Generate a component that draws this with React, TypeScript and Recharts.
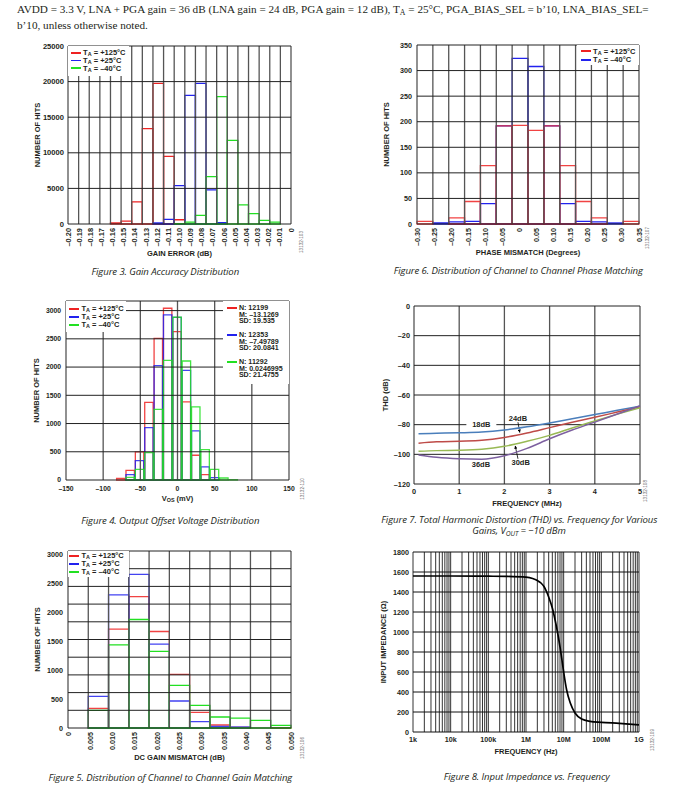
import React from 'react';
import {
  ComposedChart,
  Bar,
  LineChart,
  Line,
  XAxis,
  YAxis,
  CartesianGrid,
  Label,
  ReferenceDot,
  ReferenceLine,
} from 'recharts';

// ---- Figure 3: gain accuracy distribution ----
const gainErrorBins = [
  -0.2, -0.19, -0.18, -0.17, -0.16, -0.15, -0.14, -0.13, -0.12, -0.11, -0.1,
  -0.09, -0.08, -0.07, -0.06, -0.05, -0.04, -0.03, -0.02, -0.01, 0,
];
const gainErrorHot = [0, 0, 0, 0, 150, 400, 3100, 13400, 19750, 9500, 600, 0, 0, 0, 0, 0, 0, 0, 0, 0, 0];
const gainErrorRoom = [0, 0, 0, 0, 0, 0, 0, 0, 150, 650, 5400, 18070, 19750, 4800, 200, 0, 0, 0, 0, 0, 0];
const gainErrorCold = [0, 0, 0, 0, 0, 0, 0, 0, 0, 0, 50, 250, 1200, 6650, 17900, 11750, 2700, 1450, 500, 250, 0];
const gainErrorYTicks = [0, 5000, 10000, 15000, 20000, 25000];

// ---- Figure 6: phase matching ----
const phaseBins = [-0.3, -0.25, -0.2, -0.15, -0.1, -0.05, 0, 0.05, 0.1, 0.15, 0.2, 0.25, 0.3, 0.35];
const phaseHot = [5, 0, 12, 44, 114, 192, 193, 183, 192, 114, 44, 12, 0, 5];
const phaseCold = [0, 2, 4, 5, 40, 192, 324, 308, 192, 40, 5, 4, 2, 0];
const phaseYTicks = [0, 50, 100, 150, 200, 250, 300, 350];

// ---- Figure 4: output offset voltage ----
const vosBinCenters = [-75.6, -63, -50.4, -37.8, -25.2, -12.6, 0, 12.6, 25.2, 37.8, 50.4, 63, 75.6];
const vosBinWidth = 12.6;
const vosHot = [30, 172, 497, 1373, 2509, 3042, 2628, 1385, 438, 95, 0, 0, 0];
const vosRoom = [0, 95, 343, 929, 2024, 2924, 2880, 1941, 870, 231, 41, 0, 0];
const vosCold = [0, 47, 189, 485, 1249, 2119, 2882, 2107, 1296, 538, 189, 35, 5];
const vosXTicks = [-150, -100, -50, 0, 50, 100, 150];
const vosYTicks = [0, 500, 1000, 1500, 2000, 2500, 3000];
const vosYMax = 3170;
const vosStats = [
  { n: '12199', m: '–13.1269', sd: '19.535' },
  { n: '12353', m: '–7.49789', sd: '20.0841' },
  { n: '11292', m: '0.0246995', sd: '21.4755' },
];

// ---- Figure 7: THD vs frequency ----
const thdFreq = [0.1, 0.5, 1, 1.5, 2, 2.5, 3, 3.5, 4, 4.5, 5];
const thd18 = [-86.1, -85.8, -85.5, -85.0, -83.6, -81.4, -78.8, -76.0, -73.2, -70.3, -67.6];
const thd24 = [-92.5, -91.6, -91.1, -90.5, -88.6, -85.6, -82.0, -78.4, -75.0, -71.5, -68.0];
const thd30 = [-98.0, -97.5, -97.3, -96.6, -94.6, -91.2, -87.2, -82.2, -77.5, -72.9, -68.6];
const thd36 = [-100.4, -102.0, -103.0, -103.3, -101.0, -96.0, -89.5, -83.6, -78.3, -72.8, -67.3];
const thdXTicks = [0, 1, 2, 3, 4, 5];
const thdYTicks = [-120, -100, -80, -60, -40, -20, 0];

// ---- Figure 5: DC gain matching ----
const gainMatchBins = [0, 0.005, 0.01, 0.015, 0.02, 0.025, 0.03, 0.035, 0.04, 0.045, 0.05];
const gainMatchHot = [0, 339, 1707, 2270, 1667, 925, 270, 52, 11, 0, 5];
const gainMatchRoom = [0, 546, 2299, 2655, 1448, 466, 109, 29, 17, 0, 0];
const gainMatchCold = [0, 305, 1437, 1874, 1322, 736, 391, 190, 172, 132, 46];
const gainMatchYTicks = [0, 500, 1000, 1500, 2000, 2500, 3000];
const gainMatchYMax = 3057;

// ---- Figure 8: input impedance ----
const zFreq = [1e3, 1e4, 1e5, 3e5, 1e6, 1.5e6, 2e6, 2.5e6, 3e6, 3.5e6, 4e6, 5e6, 6e6, 7e6, 8e6, 9e6, 1e7, 1.2e7, 1.5e7, 2e7, 3e7, 5e7, 1e8, 3e8, 1e9];
const zOhms = [1560, 1560, 1558, 1556, 1548, 1535, 1515, 1490, 1455, 1405, 1350, 1240, 1110, 980, 850, 720, 600, 420, 290, 190, 130, 107, 97, 86, 72];
const zXTicks = [1e3, 1e4, 1e5, 1e6, 1e7, 1e8, 1e9];
const zXLabels = ['1k', '10k', '100k', '1M', '10M', '100M', '1G'];
const zYTicks = [0, 200, 400, 600, 800, 1000, 1200, 1400, 1600, 1800];

const FONT = '"Liberation Sans", Arial, sans-serif';
const INK = '#231f20';
const RED = '#ee2222';
const BLUE = '#2222ee';
const GREEN = '#22e022';

const tickStyle = (size: number) => ({ fontFamily: FONT, fontWeight: 700, fontSize: size, fill: INK });
const titleStyle = { fontFamily: FONT, fontWeight: 700, fontSize: 7.5, fill: INK };

const fmtDec = (digits: number) => (v: number) =>
  v === 0 ? '0' : (v < 0 ? '–' : '') + Math.abs(v).toFixed(digits);
const fmtInt = (v: number) => (v < 0 ? '–' : '') + Math.abs(v);

const RotatedTick = (size: number, format: (v: number) => string) => (props: any) => {
  const { x, y, payload } = props;
  return (
    <text x={x} y={y} transform={`rotate(-90 ${x} ${y})`} textAnchor="end" dominantBaseline="central" style={tickStyle(size)}>
      {format(payload.value)}
    </text>
  );
};

const yTitle = (text: React.ReactNode, dx: number) => (props: any) => {
  const vb = props.viewBox;
  const cx = vb.x + dx;
  const cy = vb.y + vb.height / 2;
  return (
    <text x={cx} y={cy} transform={`rotate(-90 ${cx} ${cy})`} textAnchor="middle" dominantBaseline="central" style={titleStyle}>
      {text}
    </text>
  );
};

const xTitle = (text: React.ReactNode, dy: number) => (props: any) => {
  const vb = props.viewBox;
  return (
    <text x={vb.x + vb.width / 2} y={vb.y + dy} textAnchor="middle" dominantBaseline="central" style={titleStyle}>
      {text}
    </text>
  );
};

// histogram grid: reference lines at the bin edges and at the y rows
const COL = { stroke: '#555', strokeWidth: 1.3, ifOverflow: 'visible' as const };
const ROW = { stroke: '#222', strokeWidth: 1, ifOverflow: 'visible' as const };

const binEdgeLines = (bins: number[]) => [
  ...bins.map((b) => <ReferenceLine key={`c${b}`} x={b} position="start" {...COL} />),
  <ReferenceLine key="cend" x={bins[bins.length - 1]} position="end" {...COL} />,
];
const colLines = (values: number[], xAxisId: string) =>
  values.map((v) => <ReferenceLine key={`c${v}`} x={v} xAxisId={xAxisId} {...COL} />);
const rowLines = (values: number[], xAxisId?: string) =>
  values.map((v) => <ReferenceLine key={`r${v}`} y={v} {...(xAxisId ? { xAxisId } : {})} {...ROW} />);

const TA = ({ t }: { t: string }) => (
  <>
    T<span style={{ fontSize: '0.72em', position: 'relative', top: '0.22em' }}>A</span> = {t}
  </>
);

type Entry = { color: string; label: React.ReactNode };

const legendFont: React.CSSProperties = {
  fontFamily: FONT,
  fontWeight: 700,
  fontSize: 7.5,
  color: INK,
  whiteSpace: 'nowrap',
  lineHeight: 1,
};

function LegendBox({ entries, box, row, padTop, padLeft }: { entries: Entry[]; box: React.CSSProperties; row: number; padTop: number; padLeft: number }) {
  return (
    <div style={{ position: 'absolute', background: '#fff', boxSizing: 'border-box', paddingTop: padTop, paddingLeft: padLeft, ...box }}>
      {entries.map((e, i) => (
        <div key={i} style={{ display: 'flex', alignItems: 'center', height: row }}>
          <span style={{ display: 'inline-block', width: 9.5, height: 1.8, background: e.color, marginRight: 2.6 }} />
          <span style={legendFont}>{e.label}</span>
        </div>
      ))}
    </div>
  );
}

const threeTemps: Entry[] = [
  { color: RED, label: <TA t="+125°C" /> },
  { color: BLUE, label: <TA t="+25°C" /> },
  { color: GREEN, label: <TA t="–40°C" /> },
];

const barCommon = { fill: 'none', strokeWidth: 1.3, isAnimationActive: false };
const blankAxis = { tick: false, tickLine: false, axisLine: false } as const;
const layer: React.CSSProperties = { position: 'absolute', left: 0, top: 0 };

// bars of one bin share the same slot: size just under the band, negative gap
const slot = (plotWidth: number, bins: number) => plotWidth / bins - 0.02;

// ---------------- charts ----------------
// Each histogram: a frame chart underneath (x axis and titles) and a bar
// chart with the same geometry on top (grid, bars and y tick labels).

const gainErrorData = gainErrorBins.map((bin, i) => ({ bin, hot: gainErrorHot[i], room: gainErrorRoom[i], cold: gainErrorCold[i] }));

function GainErrorChart() {
  const W = 296, H = 228;
  const margin = { top: 10, right: 25, bottom: 0, left: 0 };
  const bs = slot(223, gainErrorBins.length);
  return (
    <div style={{ position: 'absolute', left: 20, top: 36, width: W, height: H }}>
      <div style={layer}>
        <LineChart width={W} height={H} data={gainErrorData} margin={margin}>
          <XAxis dataKey="bin" interval={0} tickLine={false} axisLine={false} tickSize={0} tickMargin={4} height={40} tick={RotatedTick(7.4, fmtDec(2))}>
            <Label content={xTitle('GAIN ERROR (dB)', 29)} />
          </XAxis>
          <YAxis width={48} domain={[0, 25000]} {...blankAxis}>
            <Label content={yTitle('NUMBER OF HITS', 17)} />
          </YAxis>
        </LineChart>
      </div>
      <div style={layer}>
        <ComposedChart width={W} height={H} data={gainErrorData} margin={margin} barGap={-bs}>
          <XAxis dataKey="bin" height={40} {...blankAxis} />
          <YAxis width={48} domain={[0, 25000]} ticks={gainErrorYTicks} interval={0} tickLine={false} axisLine={false} tickSize={0} tickMargin={4} tick={tickStyle(7.6)} />
          {binEdgeLines(gainErrorBins)}
          {rowLines(gainErrorYTicks)}
          <Bar dataKey="hot" name="+125°C" stroke={RED} barSize={bs} {...barCommon} />
          <Bar dataKey="room" name="+25°C" stroke={BLUE} barSize={bs} {...barCommon} />
          <Bar dataKey="cold" name="-40°C" stroke={GREEN} barSize={bs} {...barCommon} />
        </ComposedChart>
      </div>
      <LegendBox entries={threeTemps} box={{ left: 48, top: 10, width: 61, height: 30 }} row={7.8} padTop={2.8} padLeft={3} />
    </div>
  );
}

const phaseData = phaseBins.map((bin, i) => ({ bin, hot: phaseHot[i], cold: phaseCold[i] }));

function PhaseChart() {
  const W = 279, H = 229;
  const margin = { top: 10, right: 12, bottom: 0, left: 0 };
  const bs = slot(222, phaseBins.length);
  return (
    <div style={{ position: 'absolute', left: 372, top: 35, width: W, height: H }}>
      <div style={layer}>
        <LineChart width={W} height={H} data={phaseData} margin={margin}>
          <XAxis dataKey="bin" interval={0} tickLine={false} axisLine={false} tickSize={0} tickMargin={4} height={40} tick={RotatedTick(7.2, fmtDec(2))}>
            <Label content={xTitle('PHASE MISMATCH (Degrees)', 28.3)} />
          </XAxis>
          <YAxis width={45} domain={[0, 350]} {...blankAxis}>
            <Label content={yTitle('NUMBER OF HITS', 14.7)} />
          </YAxis>
        </LineChart>
      </div>
      <div style={layer}>
        <ComposedChart width={W} height={H} data={phaseData} margin={margin} barGap={-bs}>
          <XAxis dataKey="bin" height={40} {...blankAxis} />
          <YAxis width={45} domain={[0, 350]} ticks={phaseYTicks} interval={0} tickLine={false} axisLine={false} tickSize={0} tickMargin={5} tick={tickStyle(7.2)} />
          {binEdgeLines(phaseBins)}
          {rowLines(phaseYTicks)}
          <Bar dataKey="cold" name="-40°C" stroke={BLUE} barSize={bs} {...barCommon} />
          <Bar dataKey="hot" name="+125°C" stroke={RED} barSize={bs} strokeOpacity={0.85} {...barCommon} />
        </ComposedChart>
      </div>
      <LegendBox
        entries={[
          { color: RED, label: <TA t="+125°C" /> },
          { color: BLUE, label: <TA t="–40°C" /> },
        ]}
        box={{ left: 205, top: 10, width: 62, height: 20 }}
        row={8.3}
        padTop={2.2}
        padLeft={4}
      />
    </div>
  );
}

const vosData = vosBinCenters.map((mv, i) => ({ mv, hot: vosHot[i], room: vosRoom[i], cold: vosCold[i] }));
const VOS_PLOT_W = 223;

function StatsBox() {
  const colors = [RED, BLUE, GREEN];
  return (
    <div style={{ position: 'absolute', left: 203, top: 10, width: 66, height: 83, background: '#fff', boxSizing: 'border-box', paddingTop: 3.8, paddingLeft: 4.3 }}>
      {vosStats.map((s, i) => (
        <div key={i} style={{ display: 'flex', alignItems: 'flex-start', height: 27 }}>
          <span style={{ display: 'inline-block', width: 10, height: 1.8, background: colors[i], marginRight: 1.6, marginTop: 2.6 }} />
          <div style={{ ...legendFont, fontSize: 7.1, lineHeight: '6.7px' }}>
            <div>N: {s.n}</div>
            <div>M: {s.m}</div>
            <div>SD: {s.sd}</div>
          </div>
        </div>
      ))}
    </div>
  );
}

function VosChart() {
  const W = 289, H = 219;
  const margin = { top: 10, right: 20, bottom: 0, left: 0 };
  const bs = (vosBinWidth * VOS_PLOT_W) / 300;
  const vosAxis = { type: 'number' as const, dataKey: 'mv', domain: [-150, 150] as [number, number] };
  return (
    <div style={{ position: 'absolute', left: 20, top: 291, width: W, height: H }}>
      <div style={layer}>
        <LineChart width={W} height={H} data={vosData} margin={margin}>
          <XAxis {...vosAxis} ticks={vosXTicks} interval={0} tickLine={false} axisLine={false} tickSize={0} tickMargin={6} height={30} tick={tickStyle(6.8)} tickFormatter={fmtInt}>
            <Label
              content={(p: any) => (
                <text x={p.viewBox.x + p.viewBox.width / 2} y={p.viewBox.y + 18.3} textAnchor="middle" dominantBaseline="central" style={titleStyle}>
                  V<tspan dy={1.8} fontSize={5.4}>OS</tspan>
                  <tspan dy={-1.8}> (mV)</tspan>
                </text>
              )}
            />
          </XAxis>
          <YAxis width={46} domain={[0, vosYMax]} {...blankAxis}>
            <Label content={yTitle('NUMBER OF HITS', 16)} />
          </YAxis>
        </LineChart>
      </div>
      <div style={layer}>
        <ComposedChart width={W} height={H} data={vosData} margin={margin} barGap={0}>
          <XAxis xAxisId="a" {...vosAxis} height={30} {...blankAxis} />
          <XAxis xAxisId="b" {...vosAxis} hide height={0} />
          <XAxis xAxisId="c" {...vosAxis} hide height={0} />
          <YAxis width={46} domain={[0, vosYMax]} ticks={vosYTicks} interval={0} tickLine={false} axisLine={false} tickSize={0} tickMargin={5} tick={tickStyle(6.8)} />
          {colLines(vosXTicks, 'a')}
          {rowLines([...vosYTicks, vosYMax], 'a')}
          <Bar xAxisId="a" dataKey="hot" name="+125°C" stroke={RED} barSize={bs} strokeOpacity={0.85} {...barCommon} />
          <Bar xAxisId="b" dataKey="room" name="+25°C" stroke={BLUE} barSize={bs} strokeOpacity={0.85} {...barCommon} />
          <Bar xAxisId="c" dataKey="cold" name="-40°C" stroke={GREEN} barSize={bs} strokeOpacity={0.85} {...barCommon} />
        </ComposedChart>
      </div>
      <LegendBox entries={threeTemps} box={{ left: 46, top: 10, width: 60, height: 31 }} row={7.9} padTop={4} padLeft={3.3} />
      <StatsBox />
    </div>
  );
}

const thdData = thdFreq.map((mhz, i) => ({ mhz, g18: thd18[i], g24: thd24[i], g30: thd30[i], g36: thd36[i] }));

const thdLabels = [
  { text: '18dB', x: 1.49, y: -79.8, boxed: true },
  { text: '24dB', x: 2.3, y: -75.6, boxed: false },
  { text: '30dB', x: 2.36, y: -105.3, boxed: false },
  { text: '36dB', x: 1.48, y: -106.7, boxed: false },
];
const thdArrows = [
  { x1: 2.3, y1: -78.3, x2: 2.34, y2: -85.3 },
  { x1: 2.3, y1: -103, x2: 2.24, y2: -94.3 },
];

const annotation = (text: string, boxed: boolean) => (props: any) => {
  const { x, y } = props.viewBox;
  return (
    <g>
      {boxed && <rect x={x - 15} y={y - 3} width={30} height={6} fill="#fff" />}
      <text x={x} y={y} textAnchor="middle" dominantBaseline="central" style={titleStyle}>
        {text}
      </text>
    </g>
  );
};

function ThdChart() {
  return (
    <div style={{ position: 'absolute', left: 372, top: 296 }}>
      <LineChart width={280} height={218} data={thdData} margin={{ top: 10, right: 12, bottom: 0, left: 0 }}>
        <defs>
          <marker id="thdArrow" viewBox="0 0 6 6" refX="5.5" refY="3" markerWidth="4" markerHeight="4" orient="auto">
            <path d="M0,0 L6,3 L0,6 z" fill="#000" />
          </marker>
        </defs>
        <CartesianGrid horizontal={false} stroke="#555" strokeWidth={1.3} />
        <CartesianGrid vertical={false} stroke="#222" />
        <XAxis type="number" dataKey="mhz" domain={[0, 5]} ticks={thdXTicks} interval={0} tickLine={false} axisLine={false} tickSize={0} tickMargin={5} height={30} tick={tickStyle(7.3)}>
          <Label content={xTitle('FREQUENCY (MHz)', 19.3)} />
        </XAxis>
        <YAxis width={42} domain={[-120, 0]} ticks={thdYTicks} interval={0} tickLine={false} axisLine={false} tickSize={0} tickMargin={4} tick={tickStyle(7.3)} tickFormatter={fmtInt}>
          <Label content={yTitle('THD (dB)', 13)} />
        </YAxis>
        {thdLabels.map((l) => (
          <ReferenceDot key={l.text} x={l.x} y={l.y} r={0} fill="none" stroke="none">
            <Label content={annotation(l.text, l.boxed)} />
          </ReferenceDot>
        ))}
        {thdArrows.map((a, i) => (
          <ReferenceLine
            key={i}
            segment={[
              { x: a.x1, y: a.y1 },
              { x: a.x2, y: a.y2 },
            ]}
            stroke="#000"
            strokeWidth={0.8}
            markerEnd="url(#thdArrow)"
          />
        ))}
        <Line type="monotone" dataKey="g18" stroke="#4a7ebb" strokeWidth={1.5} dot={false} isAnimationActive={false} />
        <Line type="monotone" dataKey="g24" stroke="#be4b48" strokeWidth={1.5} dot={false} isAnimationActive={false} />
        <Line type="monotone" dataKey="g30" stroke="#98b954" strokeWidth={1.5} dot={false} isAnimationActive={false} />
        <Line type="monotone" dataKey="g36" stroke="#7d60a0" strokeWidth={1.5} dot={false} isAnimationActive={false} />
      </LineChart>
    </div>
  );
}

const gainMatchData = gainMatchBins.map((bin, i) => ({ bin, hot: gainMatchHot[i], room: gainMatchRoom[i], cold: gainMatchCold[i] }));

function GainMatchChart() {
  const W = 296, H = 227;
  const margin = { top: 10, right: 25, bottom: 0, left: 0 };
  const gridRows = Array.from({ length: 11 }, (_, i) => (gainMatchYMax * i) / 10);
  const bs = slot(223, gainMatchBins.length);
  return (
    <div style={{ position: 'absolute', left: 20, top: 541, width: W, height: H }}>
      <div style={layer}>
        <LineChart width={W} height={H} data={gainMatchData} margin={margin}>
          <XAxis dataKey="bin" interval={0} tickLine={false} axisLine={false} tickSize={0} tickMargin={4} height={40} tick={RotatedTick(7.2, fmtDec(3))}>
            <Label content={xTitle('DC GAIN MISMATCH (dB)', 29.4)} />
          </XAxis>
          <YAxis width={48} domain={[0, gainMatchYMax]} {...blankAxis}>
            <Label content={yTitle('NUMBER OF HITS', 17.3)} />
          </YAxis>
        </LineChart>
      </div>
      <div style={layer}>
        <ComposedChart width={W} height={H} data={gainMatchData} margin={margin} barGap={-bs}>
          <XAxis dataKey="bin" height={40} {...blankAxis} />
          <YAxis width={48} domain={[0, gainMatchYMax]} ticks={gainMatchYTicks} interval={0} tickLine={false} axisLine={false} tickSize={0} tickMargin={5} tick={tickStyle(7.2)} />
          {binEdgeLines(gainMatchBins)}
          {rowLines(gridRows)}
          <Bar dataKey="hot" name="+125°C" stroke={RED} barSize={bs} strokeOpacity={0.85} {...barCommon} />
          <Bar dataKey="room" name="+25°C" stroke={BLUE} barSize={bs} strokeOpacity={0.85} {...barCommon} />
          <Bar dataKey="cold" name="-40°C" stroke={GREEN} barSize={bs} {...barCommon} />
        </ComposedChart>
      </div>
      <LegendBox entries={threeTemps} box={{ left: 48, top: 10, width: 61, height: 26 }} row={8} padTop={0.7} padLeft={1.3} />
    </div>
  );
}

const zData = zFreq.map((hz, i) => ({ hz, ohm: zOhms[i] }));

function ImpedanceChart() {
  const gridCols: number[] = [];
  for (let d = 3; d < 9; d++) for (let m = 1; m < 10; m++) gridCols.push(m * 10 ** d);
  gridCols.push(1e9);
  return (
    <div style={{ position: 'absolute', left: 372, top: 542 }}>
      <LineChart width={281} height={220} data={zData} margin={{ top: 10, right: 14, bottom: 0, left: 0 }}>
        <CartesianGrid horizontal={false} stroke="#333" verticalValues={gridCols} />
        <CartesianGrid vertical={false} stroke="#111" />
        <XAxis
          type="number"
          scale="log"
          dataKey="hz"
          domain={[1e3, 1e9]}
          ticks={zXTicks}
          interval={0}
          tickLine={false}
          axisLine={false}
          tickSize={0}
          tickMargin={5}
          height={30}
          tick={tickStyle(7.2)}
          tickFormatter={(v: number) => zXLabels[zXTicks.indexOf(v)] ?? ''}
        >
          <Label content={xTitle('FREQUENCY (Hz)', 19.7)} />
        </XAxis>
        <YAxis width={41} domain={[0, 1800]} ticks={zYTicks} interval={0} tickLine={false} axisLine={false} tickSize={0} tickMargin={4} tick={tickStyle(7.2)}>
          <Label content={yTitle('INPUT IMPEDANCE (Ω)', 11.3)} />
        </YAxis>
        <Line type="monotone" dataKey="ohm" stroke="#000" strokeWidth={1.7} dot={false} isAnimationActive={false} />
      </LineChart>
    </div>
  );
}

// ---------------- page text ----------------

const captionFont: React.CSSProperties = {
  position: 'absolute',
  fontFamily: '"Open Sans", sans-serif',
  fontStyle: 'italic',
  fontSize: 9.6,
  letterSpacing: -0.1,
  color: '#231f20',
  textAlign: 'center',
  whiteSpace: 'nowrap',
  lineHeight: '9px',
};

function Caption({ cx, cy, children }: { cx: number; cy: number; children: React.ReactNode }) {
  return <div style={{ ...captionFont, left: cx - 200, top: cy - 4.5, width: 400 }}>{children}</div>;
}

function FigId({ x, y, text }: { x: number; y: number; text: string }) {
  return (
    <div style={{ position: 'absolute', left: x - 15, top: y - 3, width: 30, height: 6, transform: 'rotate(-90deg)', fontFamily: FONT, fontSize: 4.6, color: '#666', textAlign: 'center', lineHeight: '6px', whiteSpace: 'nowrap' }}>
      {text}
    </div>
  );
}

export default function App() {
  return (
    <div style={{ position: 'absolute', left: 0, top: 0, width: 687, height: 797, background: '#fff', overflow: 'hidden', color: INK }}>
      <div style={{ position: 'absolute', left: 17, top: 2, fontFamily: '"Liberation Serif", serif', fontSize: 11.2, lineHeight: '15px', whiteSpace: 'nowrap' }}>
        AVDD = 3.3 V, LNA + PGA gain = 36 dB (LNA gain = 24 dB, PGA gain = 12 dB), T
        <span style={{ fontSize: '0.7em', position: 'relative', top: '0.25em' }}>A</span> = 25°C, PGA_BIAS_SEL = b’10, LNA_BIAS_SEL=
        <br />
        b’10, unless otherwise noted.
      </div>

      <GainErrorChart />
      <PhaseChart />
      <VosChart />
      <ThdChart />
      <GainMatchChart />
      <ImpedanceChart />

      <Caption cx={165.3} cy={271.7}>Figure 3. Gain Accuracy Distribution</Caption>
      <Caption cx={518.3} cy={270.7}>Figure 6. Distribution of Channel to Channel Phase Matching</Caption>
      <Caption cx={170.3} cy={520}>Figure 4. Output Offset Voltage Distribution</Caption>
      <Caption cx={519.3} cy={519.3}>Figure 7. Total Harmonic Distortion (THD) vs. Frequency for Various</Caption>
      <Caption cx={519} cy={530.7}>
        Gains, V<span style={{ fontSize: '0.7em', position: 'relative', top: '0.25em' }}>OUT</span> = −10 dBm
      </Caption>
      <Caption cx={170.3} cy={777.3}>Figure 5. Distribution of Channel to Channel Gain Matching</Caption>
      <Caption cx={526.7} cy={776.7}>Figure 8. Input Impedance vs. Frequency</Caption>

      <FigId x={302} y={242} text="13132-103" />
      <FigId x={648.3} y={238} text="13132-107" />
      <FigId x={302.7} y={489} text="13132-110" />
      <FigId x={645.5} y={491} text="13132-108" />
      <FigId x={302.7} y={748} text="13132-106" />
      <FigId x={653.3} y={740} text="13132-109" />
    </div>
  );
}
